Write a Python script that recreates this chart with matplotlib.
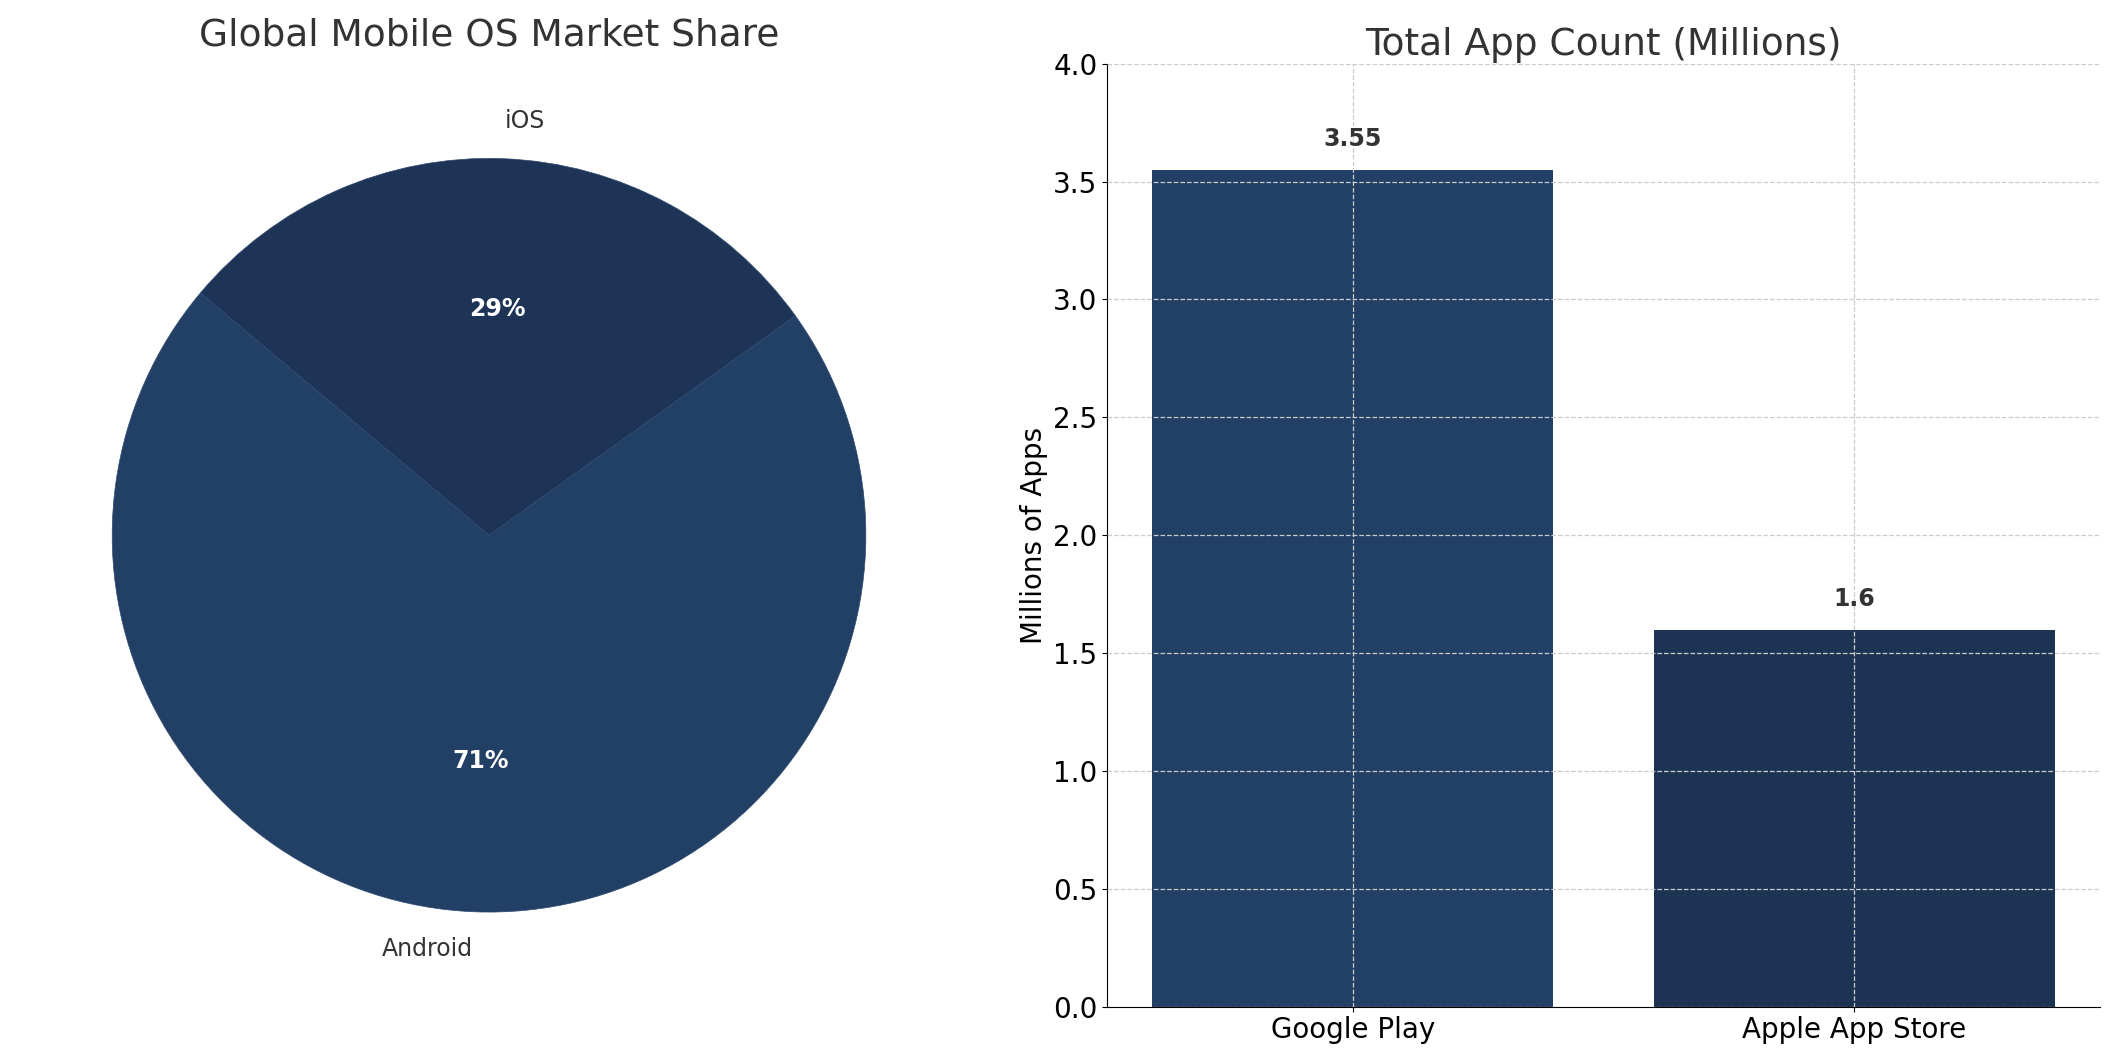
import matplotlib
matplotlib.use("Agg")
import matplotlib.pyplot as plt

os_labels = ["Android", "iOS"]
os_share = [71, 29]
os_colors = ["#223F66", "#1E3456"]

stores = ["Google Play", "Apple App Store"]
app_counts = [3.55, 1.6]
bar_colors = ["#223F66", "#1C3353"]

fig = plt.figure(figsize=(21.17, 10.62), dpi=100)

ax1 = fig.add_axes([0.053, 0.141, 0.356, 0.71])
wedges, texts, autotexts = ax1.pie(os_share, labels=os_labels, colors=os_colors, startangle=140,
                                   autopct="%1.0f%%", labeldistance=1.1,
                                   wedgeprops=dict(edgecolor="#2f4a70", linewidth=0.5),
                                   textprops=dict(fontsize=17, color="#333333"))
for t in autotexts:
    t.set_color("white"); t.set_fontweight("bold"); t.set_fontsize(17)
ax1.set_aspect("equal")
ax1.set_xlim(-1, 1)
ax1.set_ylim(-1, 1)
fig.text(0.231, 0.967, "Global Mobile OS Market Share", ha="center", va="center", fontsize=27, color="#333333")

ax2 = fig.add_axes([0.523, 0.052, 0.469, 0.888])
x = range(len(stores))
ax2.bar(x, app_counts, color=bar_colors, width=0.8, zorder=2)
ax2.set_xticks(list(x))
ax2.set_xticklabels(stores, fontsize=20)
ax2.set_ylim(0, 4.0)
ax2.set_yticks([0, 0.5, 1.0, 1.5, 2.0, 2.5, 3.0, 3.5, 4.0])
ax2.tick_params(axis="y", labelsize=20)
ax2.set_ylabel("Millions of Apps", fontsize=20)
ax2.set_title("Total App Count (Millions)", fontsize=27, color="#333333", pad=6)
ax2.grid(True, linestyle="--", color="#cccccc", linewidth=0.9, zorder=3)
ax2.set_axisbelow(False)
for s in ["top", "right"]:
    ax2.spines[s].set_visible(False)
for i, v in enumerate(app_counts):
    ax2.text(i, v + 0.08, f"{v:g}", ha="center", va="bottom", fontsize=17, fontweight="bold", color="#333333")

fig.savefig("out.png", dpi=100)
